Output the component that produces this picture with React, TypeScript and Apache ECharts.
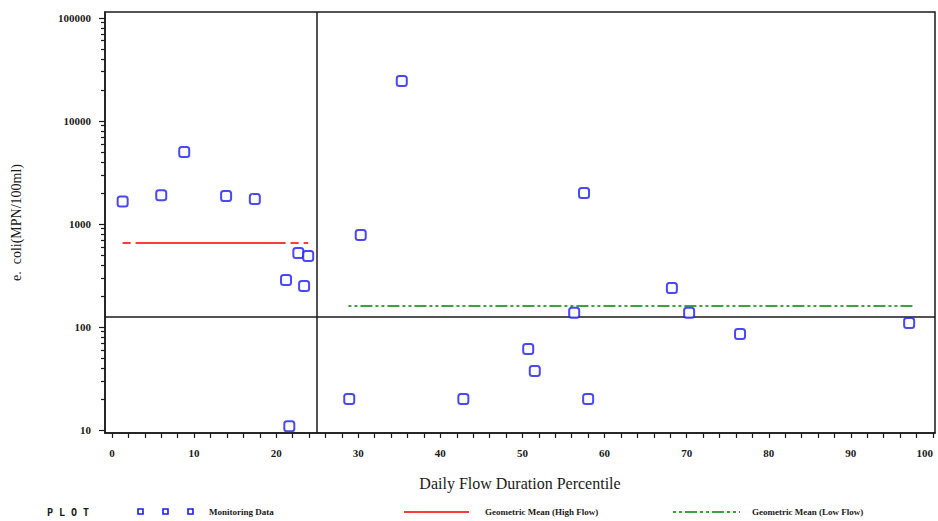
import React, { useEffect, useRef } from "react";
import * as echarts from "echarts";

// Monitoring data (flow duration percentile, E. coli MPN/100ml)
const flowPercentile = [1.3, 6.0, 8.8, 13.9, 17.4, 21.2, 22.7, 23.9, 23.4, 21.6, 28.9, 30.3, 35.3, 42.8, 50.7, 51.5, 56.3, 57.5, 58.0, 68.2, 70.3, 76.5, 97.1];
const ecoliValues = [1650, 1900, 5000, 1870, 1750, 286, 523, 489, 250, 10.9, 20, 782, 24400, 20, 61, 37.4, 137, 2000, 20, 239, 137, 85.5, 109];

// Geometric means
const highFlowRange = [1.3, 23.9];
const highFlowMean = 654;
const lowFlowRange = [28.8, 97.6];
const lowFlowMean = 160;

// Reference lines
const standardValue = 126;
const flowSplitPercentile = 25;

// Axis ticks and labels
const xLabelValues = [0, 10, 20, 30, 40, 50, 60, 70, 80, 90, 100];
const xTickValues = [0, 2, 4, 6, 8, 10, 12, 14, 16, 18, 20, 22, 24, 26, 28, 30, 32, 34, 36, 38, 40, 42, 44, 46, 48, 50, 52, 54, 56, 58, 60, 62, 64, 66, 68, 70, 72, 74, 76, 78, 80, 82, 84, 86, 88, 90, 92, 94, 96, 98, 100];
const yLabelValues = [10, 100, 1000, 10000, 100000];
const yMinorTickValues = [20, 30, 40, 50, 60, 70, 80, 90, 200, 300, 400, 500, 600, 700, 800, 900, 2000, 3000, 4000, 5000, 6000, 7000, 8000, 9000, 20000, 30000, 40000, 50000, 60000, 70000, 80000, 90000];

const xTitle = "Daily Flow Duration Percentile";
const yTitle = "e.  coli(MPN/100ml)";
const legendHeader = "P L O T";
const legendNames = ["Monitoring Data", "Geometric Mean (High Flow)", "Geometric Mean (Low Flow)"];

const BLUE = "#1a1aff";
const RED = "#ff3b3b";
const GREEN = "#3aa53a";
const INK = "#1a1a1a";
const SERIF = "'Liberation Serif', 'DejaVu Serif', serif";

export default function App() {
  const ref = useRef<HTMLDivElement>(null);

  useEffect(() => {
    document.body.style.margin = "0";
    if (!ref.current) return;
    const chart = echarts.init(ref.current, undefined, { renderer: "svg" });

    const yRange = { min: 9.35, max: 114000 };
    const legendY = 512;

    const option: any = {
      animation: false,
      backgroundColor: "#ffffff",
      grid: {
        left: 105,
        top: 12,
        right: 3,
        bottom: 88,
        show: true,
        borderColor: INK,
        borderWidth: 1.5,
        outerBoundsMode: "none",
        containLabel: false,
      },
      xAxis: {
        type: "value",
        min: -0.85,
        max: 100.25,
        name: xTitle,
        nameLocation: "middle",
        nameGap: 42,
        nameTextStyle: { fontFamily: SERIF, fontSize: 16, color: INK },
        axisLine: { show: true, onZero: false, lineStyle: { color: INK, width: 1.5 } },
        axisTick: { show: true, length: 5, customValues: xTickValues, lineStyle: { color: INK, width: 1.2 } },
        axisLabel: {
          customValues: xLabelValues,
          margin: 14,
          fontFamily: SERIF,
          fontSize: 11,
          fontWeight: "bold",
          color: INK,
          alignMaxLabel: "right",
        },
        splitLine: { show: false },
      },
      yAxis: [
        {
          type: "log",
          logBase: 10,
          min: yRange.min,
          max: yRange.max,
          name: yTitle,
          nameLocation: "middle",
          nameGap: 82,
          nameRotate: 90,
          nameTextStyle: { fontFamily: SERIF, fontSize: 14, color: INK },
          axisLine: { show: true, onZero: false, lineStyle: { color: INK, width: 1.5 } },
          axisTick: { show: true, length: 6, customValues: yLabelValues, lineStyle: { color: INK, width: 1.2 } },
          axisLabel: {
            customValues: yLabelValues,
            margin: 14,
            fontFamily: SERIF,
            fontSize: 11,
            fontWeight: "bold",
            color: INK,
            formatter: (v: number) => String(Math.round(v)),
          },
          splitLine: { show: false },
        },
        {
          type: "log",
          logBase: 10,
          min: yRange.min,
          max: yRange.max,
          position: "left",
          offset: 0,
          axisLine: { show: false, onZero: false },
          axisTick: { show: true, length: 4, customValues: yMinorTickValues, lineStyle: { color: INK, width: 1.2 } },
          axisLabel: { show: false },
          splitLine: { show: false },
        },
      ],
      series: [
        {
          name: legendNames[0],
          type: "scatter",
          xAxisIndex: 0,
          yAxisIndex: 0,
          symbol: "roundRect",
          symbolSize: 10,
          itemStyle: { color: "#ffffff", borderColor: BLUE, borderWidth: 2 },
          data: flowPercentile.map((x, i) => [x, ecoliValues[i]]),
          markLine: {
            silent: true,
            symbol: "none",
            label: { show: false },
            lineStyle: { color: INK, type: "solid", width: 1.5 },
            data: [{ yAxis: standardValue }, { xAxis: flowSplitPercentile }],
          },
          z: 5,
        },
        {
          name: legendNames[1],
          type: "line",
          xAxisIndex: 0,
          yAxisIndex: 0,
          symbol: "none",
          lineStyle: { color: RED, width: 2, type: [8, 5, 150, 5, 8, 5, 60, 5] },
          data: highFlowRange.map((x) => [x, highFlowMean]),
          z: 3,
        },
        {
          name: legendNames[2],
          type: "line",
          xAxisIndex: 0,
          yAxisIndex: 0,
          symbol: "none",
          lineStyle: { color: GREEN, width: 2, type: [3, 3, 3, 3, 12, 3] },
          data: lowFlowRange.map((x) => [x, lowFlowMean]),
          z: 3,
        },
      ],
      graphic: [
        {
          type: "text",
          x: 47,
          y: legendY,
          style: { text: legendHeader, fontFamily: "'DejaVu Sans Mono', monospace", fontSize: 10, fontWeight: "bold", fill: INK, verticalAlign: "middle" },
        },
        { type: "rect", shape: { x: 138, y: legendY - 3, width: 5, height: 5 }, style: { fill: "#ffffff", stroke: BLUE, lineWidth: 1.6 } },
        { type: "rect", shape: { x: 163, y: legendY - 3, width: 5, height: 5 }, style: { fill: "#ffffff", stroke: BLUE, lineWidth: 1.6 } },
        { type: "rect", shape: { x: 188, y: legendY - 3, width: 5, height: 5 }, style: { fill: "#ffffff", stroke: BLUE, lineWidth: 1.6 } },
        {
          type: "text",
          x: 209,
          y: legendY,
          style: { text: legendNames[0], fontFamily: SERIF, fontSize: 9, fontWeight: "bold", fill: INK, verticalAlign: "middle" },
        },
        { type: "line", shape: { x1: 404, y1: legendY, x2: 469, y2: legendY }, style: { stroke: RED, lineWidth: 2 } },
        {
          type: "text",
          x: 485,
          y: legendY,
          style: { text: legendNames[1], fontFamily: SERIF, fontSize: 9, fontWeight: "bold", fill: INK, verticalAlign: "middle" },
        },
        { type: "line", shape: { x1: 673, y1: legendY, x2: 740, y2: legendY }, style: { stroke: GREEN, lineWidth: 2, lineDash: [3, 3, 3, 3, 12, 3] } },
        {
          type: "text",
          x: 752,
          y: legendY,
          style: { text: legendNames[2], fontFamily: SERIF, fontSize: 9, fontWeight: "bold", fill: INK, verticalAlign: "middle" },
        },
      ],
    };

    chart.setOption(option);
    return () => chart.dispose();
  }, []);

  return <div ref={ref} style={{ width: 938, height: 521 }} />;
}
